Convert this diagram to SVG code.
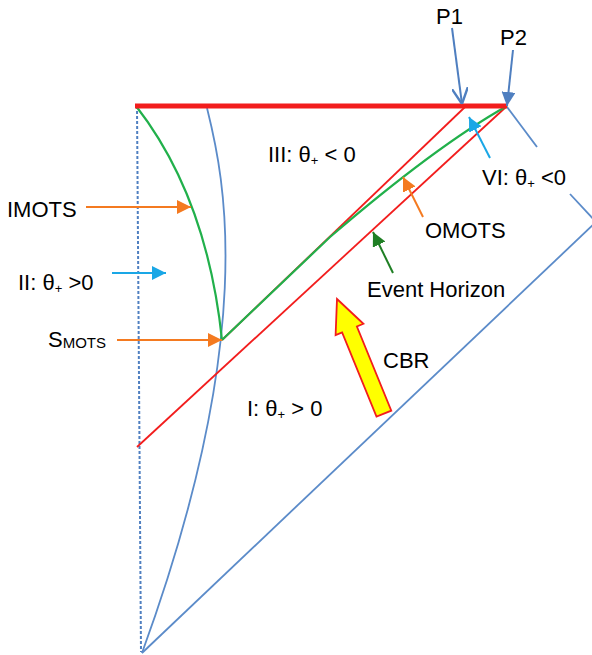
<svg xmlns="http://www.w3.org/2000/svg" width="592" height="655" viewBox="0 0 592 655">
<style>
  .lbl { font-family: "Liberation Sans", Arial, sans-serif; font-size: 22px; fill: #000; }
  .sub { font-size: 13px; }
  .blue { stroke: #5B8BC9; stroke-width: 1.8; fill: none; }
  .red { stroke: #F21D1D; stroke-width: 1.8; fill: none; }
  .green { stroke: #21B04B; stroke-width: 2.2; fill: none; }
  .a-or { stroke: #F47A20; stroke-width: 2; fill: none; }
  .a-lb { stroke: #1AA7E6; stroke-width: 2; fill: none; }
  .a-dg { stroke: #1F7F24; stroke-width: 2; fill: none; }
  .a-bl { stroke: #4F7FC0; stroke-width: 2; fill: none; }
</style>
<defs>
  <marker id="m-or" viewBox="0 0 10 10" refX="10" refY="5" markerWidth="14" markerHeight="14" markerUnits="userSpaceOnUse" orient="auto">
    <path d="M0,0 L10,5 L0,10 Z" fill="#F47A20"/>
  </marker>
  <marker id="m-lb" viewBox="0 0 10 10" refX="10" refY="5" markerWidth="14" markerHeight="14" markerUnits="userSpaceOnUse" orient="auto">
    <path d="M0,0 L10,5 L0,10 Z" fill="#1AA7E6"/>
  </marker>
  <marker id="m-dg" viewBox="0 0 10 10" refX="10" refY="5" markerWidth="14" markerHeight="14" markerUnits="userSpaceOnUse" orient="auto">
    <path d="M0,0 L10,5 L0,10 Z" fill="#1F7F24"/>
  </marker>
  <marker id="m-bl" viewBox="0 0 10 10" refX="10" refY="5" markerWidth="14" markerHeight="14" markerUnits="userSpaceOnUse" orient="auto">
    <path d="M0,0 L10,5 L0,10 Z" fill="#4F7FC0"/>
  </marker>
  <marker id="m-blv" viewBox="0 0 10 10" refX="10" refY="5" markerWidth="16" markerHeight="16" markerUnits="userSpaceOnUse" orient="auto">
    <path d="M0,0 L10,5 L0,10" fill="none" stroke="#4F7FC0" stroke-width="1.5"/>
  </marker>
</defs>
<rect width="592" height="655" fill="#fff"/>

<g id="spacetime">
  <line id="axis" x1="137" y1="106" x2="141" y2="652" stroke="#4F7FC0" stroke-width="2" stroke-dasharray="3,2"/>
  <path id="blue-curve" class="blue" d="M207,108 C225,180 258,335 142,653"/>
  <g id="outer-boundary">
    <line class="blue" x1="507" y1="107" x2="537" y2="147"/>
    <line class="blue" x1="570" y1="194" x2="596" y2="222"/>
    <line class="blue" x1="596" y1="222" x2="142" y2="653"/>
  </g>
  <line id="red-upper" class="red" x1="465" y1="107" x2="222" y2="340"/>
  <line id="red-lower" class="red" x1="507" y1="106" x2="137" y2="447"/>
  <path id="imots-curve" class="green" d="M136,106 Q207,197 222,340"/>
  <path id="omots-curve" class="green" d="M222,340 L330,237 Q436,146 507,106"/>
  <line id="singularity" x1="135" y1="106" x2="507" y2="106" stroke="#F21D1D" stroke-width="5"/>
</g>

<g id="cbr">
  <polygon points="337,299 363.4,323.8 356.9,326.5 391.3,410.7 376.5,416.7 342.1,332.5 335.6,335.2" fill="#FFFF00" stroke="#F21D1D" stroke-width="1.8" stroke-linejoin="miter"/>
</g>

<g id="connectors">
  <line class="a-bl" x1="452" y1="28" x2="462" y2="104" marker-end="url(#m-blv)"/>
  <line class="a-bl" x1="513" y1="50" x2="507" y2="106" marker-end="url(#m-bl)"/>
  <line class="a-or" x1="86" y1="207" x2="191" y2="207" marker-end="url(#m-or)"/>
  <line class="a-lb" x1="112" y1="273" x2="166" y2="273" marker-end="url(#m-lb)"/>
  <line class="a-or" x1="117" y1="340" x2="222" y2="340" marker-end="url(#m-or)"/>
  <line class="a-or" x1="423" y1="217" x2="403" y2="177" marker-end="url(#m-or)"/>
  <line class="a-lb" x1="490" y1="158" x2="469" y2="117" marker-end="url(#m-lb)"/>
  <line class="a-dg" x1="393" y1="273" x2="373" y2="232" marker-end="url(#m-dg)"/>
</g>

<g id="labels">
  <text id="p1" class="lbl" x="436" y="24">P1</text>
  <text id="p2" class="lbl" x="500" y="45">P2</text>
  <text id="region-iii" class="lbl" x="268" y="162">III: θ<tspan class="sub" dy="3">+</tspan><tspan dy="-3"> &lt; 0</tspan></text>
  <text id="region-vi" class="lbl" x="482" y="185">VI: θ<tspan class="sub" dy="3">+</tspan><tspan dy="-3"> &lt;0</tspan></text>
  <text id="omots" class="lbl" x="425" y="238">OMOTS</text>
  <text id="event-horizon" class="lbl" x="367" y="297">Event Horizon</text>
  <text id="cbr-label" class="lbl" x="383" y="368">CBR</text>
  <text id="region-i" class="lbl" x="247" y="416">I: θ<tspan class="sub" dy="3">+</tspan><tspan dy="-3"> &gt; 0</tspan></text>
  <text id="imots" class="lbl" x="7" y="217">IMOTS</text>
  <text id="region-ii" class="lbl" x="18" y="290">II: θ<tspan class="sub" dy="3">+</tspan><tspan dy="-3"> &gt;0</tspan></text>
  <text id="smots" class="lbl" x="48" y="347">S<tspan font-size="15" dy="1">MOTS</tspan></text>
</g>
</svg>
